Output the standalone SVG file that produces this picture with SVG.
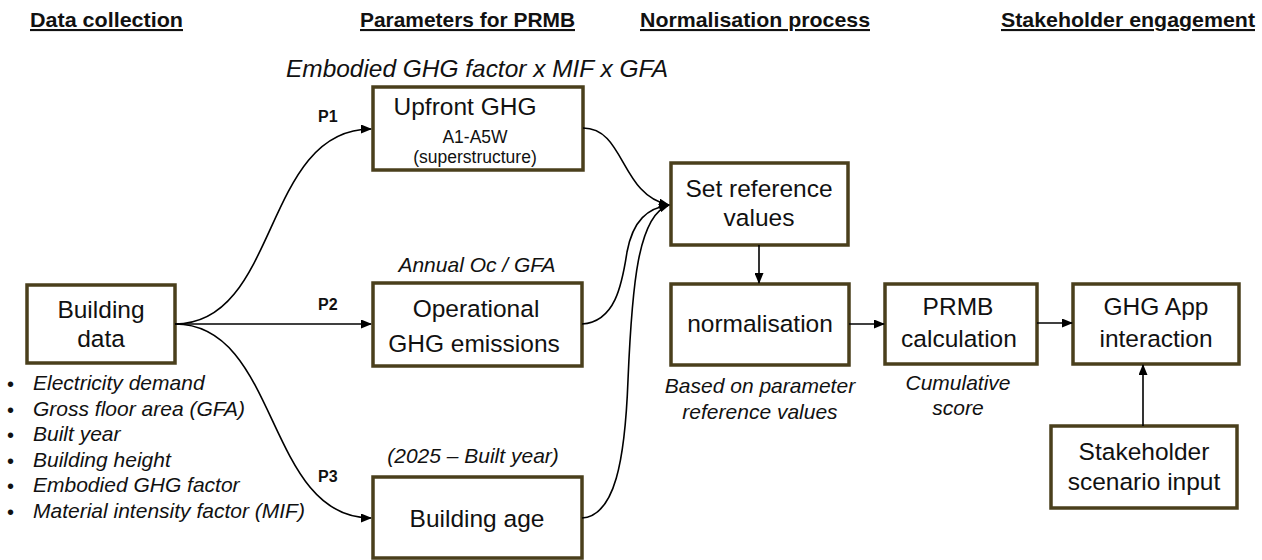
<svg xmlns="http://www.w3.org/2000/svg" width="1262" height="560" viewBox="0 0 1262 560">
<style>
  text { font-family: "Liberation Sans", Arial, sans-serif; fill: #111; }
  .hdr { font-size: 21px; font-weight: bold; text-decoration: underline; }
  .box { fill: #fff; stroke: #4a3f1c; stroke-width: 3.5; }
  .n { font-size: 24.5px; text-anchor: middle; }
  .s { font-size: 17.5px; text-anchor: middle; }
  .it { font-size: 21px; font-style: italic; }
  .itc { font-size: 21px; font-style: italic; text-anchor: middle; }
  .p { font-size: 16px; font-weight: bold; }
  .bul { font-size: 20px; }
  .c { fill: none; stroke: #000; stroke-width: 1.6; }
</style>
<defs>
  <marker id="ah" markerWidth="11" markerHeight="9" refX="10" refY="4.5" orient="auto" markerUnits="userSpaceOnUse">
    <path d="M0,0 L11,4.5 L0,9 Z" fill="#000"/>
  </marker>
</defs>

<g id="headers">
  <text class="hdr" x="30" y="27" textLength="153" lengthAdjust="spacingAndGlyphs">Data collection</text>
  <text class="hdr" x="360" y="27" textLength="215" lengthAdjust="spacingAndGlyphs">Parameters for PRMB</text>
  <text class="hdr" x="640" y="27" textLength="230" lengthAdjust="spacingAndGlyphs">Normalisation process</text>
  <text class="hdr" x="1001" y="27" textLength="254" lengthAdjust="spacingAndGlyphs">Stakeholder engagement</text>
</g>

<g id="labels">
  <text class="it" x="286" y="77" style="font-size:24px" textLength="382" lengthAdjust="spacingAndGlyphs">Embodied GHG factor x MIF x GFA</text>
  <text class="itc" x="477" y="272">Annual Oc / GFA</text>
  <text class="itc" x="473" y="463">(2025 – Built year)</text>
  <text class="itc" x="760" y="393">Based on parameter</text>
  <text class="itc" x="760" y="419">reference values</text>
  <text class="itc" x="958" y="390">Cumulative</text>
  <text class="itc" x="958" y="415">score</text>
  <text class="p" x="318" y="122">P1</text>
  <text class="p" x="318" y="310">P2</text>
  <text class="p" x="318" y="482">P3</text>
</g>

<g id="data-list">
  <text class="bul" x="7" y="391">•</text><text class="it" x="33" y="390">Electricity demand</text>
  <text class="bul" x="7" y="416.6">•</text><text class="it" x="33" y="415.6">Gross floor area (GFA)</text>
  <text class="bul" x="7" y="442.2">•</text><text class="it" x="33" y="441.2">Built year</text>
  <text class="bul" x="7" y="467.8">•</text><text class="it" x="33" y="466.8">Building height</text>
  <text class="bul" x="7" y="493.4">•</text><text class="it" x="33" y="492.4">Embodied GHG factor</text>
  <text class="bul" x="7" y="519">•</text><text class="it" x="33" y="518">Material intensity factor (MIF)</text>
</g>

<g id="building-data">
  <rect class="box" x="27" y="285" width="148" height="78"/>
  <text class="n" x="101" y="318">Building</text>
  <text class="n" x="101" y="347">data</text>
</g>

<g id="upfront-ghg">
  <rect class="box" x="373" y="87" width="210" height="83"/>
  <text class="n" x="465" y="115">Upfront GHG</text>
  <text class="s" x="475" y="143">A1-A5W</text>
  <text class="s" x="475" y="163">(superstructure)</text>
</g>

<g id="operational-ghg">
  <rect class="box" x="373" y="283" width="209" height="83"/>
  <text class="n" x="476" y="317">Operational</text>
  <text class="n" x="474" y="352">GHG emissions</text>
</g>

<g id="building-age">
  <rect class="box" x="373" y="477" width="209" height="81"/>
  <text class="n" x="477" y="527">Building age</text>
</g>

<g id="set-reference">
  <rect class="box" x="671" y="163" width="177" height="82"/>
  <text class="n" x="759" y="197">Set reference</text>
  <text class="n" x="759" y="226">values</text>
</g>

<g id="normalisation">
  <rect class="box" x="671" y="284" width="178" height="81"/>
  <text class="n" x="760" y="332">normalisation</text>
</g>

<g id="prmb-calculation">
  <rect class="box" x="885" y="284" width="152" height="80"/>
  <text class="n" x="958" y="315">PRMB</text>
  <text class="n" x="959" y="347">calculation</text>
</g>

<g id="ghg-app">
  <rect class="box" x="1073" y="284" width="166" height="80"/>
  <text class="n" x="1156" y="315">GHG App</text>
  <text class="n" x="1156" y="347">interaction</text>
</g>

<g id="stakeholder-input">
  <rect class="box" x="1051" y="426" width="186" height="82"/>
  <text class="n" x="1144" y="460">Stakeholder</text>
  <text class="n" x="1144" y="490">scenario input</text>
</g>

<g id="connectors">
  <path class="c" d="M175,324 C280,324 262,129 371,129" marker-end="url(#ah)"/>
  <path class="c" d="M175,324 L371,324" marker-end="url(#ah)"/>
  <path class="c" d="M175,324 C280,324 265,518 371,518" marker-end="url(#ah)"/>
  <path class="c" d="M583,128 C625,128 620,195 669,205" marker-end="url(#ah)"/>
  <path class="c" d="M582,324 C615,322 622,285 627,252 C633,220 648,208 669,205" marker-end="url(#ah)"/>
  <path class="c" d="M582,518 C615,516 625,460 628,380 C632,285 638,215 669,205" marker-end="url(#ah)"/>
  <path class="c" d="M759,245 L759,283" marker-end="url(#ah)"/>
  <path class="c" d="M849,324 L884,324" marker-end="url(#ah)"/>
  <path class="c" d="M1037,323 L1072,323" marker-end="url(#ah)"/>
  <path class="c" d="M1143,426 L1143,365" marker-end="url(#ah)"/>
</g>
</svg>
